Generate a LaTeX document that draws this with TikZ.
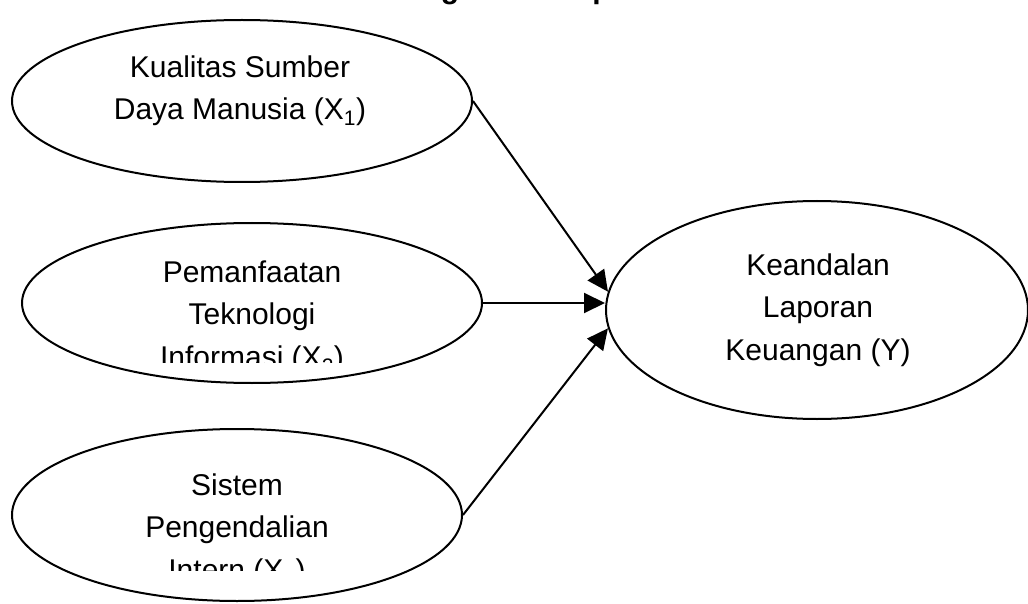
\documentclass[tikz,border=0pt]{standalone}
\usepackage{fontspec}
\setmainfont{Liberation Sans}
\usetikzlibrary{arrows.meta,shapes.geometric}

\tikzset{
    var/.style={draw, ellipse, line width=2pt, inner sep=0pt},
    lbl/.style={align=center, anchor=base, inner sep=0pt, font=\fontsize{30}{42.5}\selectfont},
    link/.style={line width=2pt, -{Triangle[length=21pt,width=20pt]}}
}

\begin{document}
\begin{tikzpicture}[x=1pt,y=-1pt]
    \useasboundingbox (0,0) rectangle (1028,604);
    \clip (0,0) rectangle (1028,604);

    % title, only its descenders show
    \node[anchor=base, inner sep=0pt, font=\bfseries\fontsize{30}{36}\selectfont] (judul) at (510,-1) {Kerangka Konseptual};

    \node[var, minimum width=460pt, minimum height=162pt] (x1) at (242,101) {};
    \node[var, minimum width=460pt, minimum height=160pt] (x2) at (252,303) {};
    \node[var, minimum width=450pt, minimum height=172pt] (x3) at (237,515) {};
    \node[var, minimum width=422pt, minimum height=218pt] (y)  at (817,310) {};

    \node[lbl] (tx1) at (240,120) {Kualitas Sumber\\Daya Manusia (X\textsubscript{1})};
    \begin{scope}
        \clip (0,200) rectangle (500,362);
        \node[lbl] (tx2) at (252,367) {Pemanfaatan\\Teknologi\\Informasi (X\textsubscript{2})};
    \end{scope}
    \begin{scope}
        \clip (0,420) rectangle (500,570);
        \node[lbl] (tx3) at (237,580) {Sistem\\Pengendalian\\Intern (X\textsubscript{3})};
    \end{scope}
    \node[lbl] (ty) at (818,360) {Keandalan\\Laporan\\Keuangan (Y)};

    \draw[link] (x1.east) -- (y.175);
    \draw[link] (x2.east) -- (x2.east -| y.west);
    \draw[link] (x3.east) -- (y.185);
\end{tikzpicture}
\end{document}
